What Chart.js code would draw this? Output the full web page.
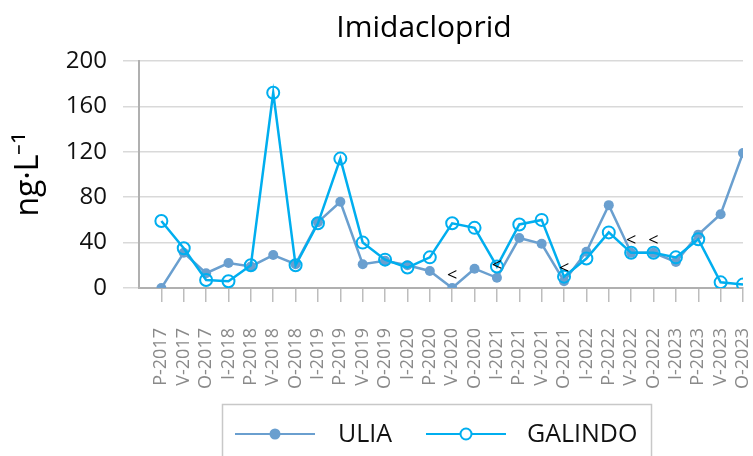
<!DOCTYPE html>
<html>
<head>
<meta charset="utf-8">
<script src="https://cdn.jsdelivr.net/npm/chart.js@4"></script>
<style>
  html, body { margin: 0; padding: 0; background: #fff; }
  #wrap { width: 753px; height: 456px; }
</style>
</head>
<body>
<div id="wrap"><canvas id="myChart" width="753" height="456"></canvas></div>
<script>
const categories = ["P-2017", "V-2017", "O-2017", "I-2018", "P-2018", "V-2018", "O-2018",
  "I-2019", "P-2019", "V-2019", "O-2019", "I-2020", "P-2020", "V-2020", "O-2020",
  "I-2021", "P-2021", "V-2021", "O-2021", "I-2022", "P-2022", "V-2022", "O-2022",
  "I-2023", "P-2023", "V-2023", "O-2023"];
const ulia = [0, 31, 13, 22, 19, 29, 21, 58, 76, 21, 24, 20, 15, 0, 17, 9, 44, 39, 6, 32, 73, 31, 31, 23, 47, 65, 119];
const galindo = [59, 35, 7, 6, 20, 172, 20, 57, 114, 40, 25, 18, 27, 57, 53, 19, 56, 60, 10, 26, 49, 31, 31, 27, 43, 5, 3];
// "<" labels (below detection limit) placed on ULIA points
const belowLimit = [13, 15, 18, 21, 22];
const yTicks = [0, 40, 80, 120, 160, 200];

const FONT = "'Open Sans', sans-serif";
const ULIA_COLOR = "#6A9FCF";
const GAL_COLOR = "#00AEEF";

const ctx = document.getElementById("myChart").getContext("2d");

const extrasPlugin = {
  id: "extras",
  afterLayout(chart) {
    // centre the title a bit left of the plot area, like the original
    if (chart.titleBlock) chart.titleBlock.left = 105;
  },
  afterDatasetsDraw(chart) {
    const c = chart.ctx;
    const xs = chart.scales.x;
    const ys = chart.scales.y;
    c.save();
    c.fillStyle = "#000";
    c.font = "18px " + FONT;
    c.textAlign = "center";
    c.textBaseline = "middle";
    belowLimit.forEach(function (i) {
      c.fillText("<", xs.getPixelForValue(i), ys.getPixelForValue(ulia[i]) - 12);
    });
    c.restore();
  },
  afterDraw(chart) {
    const c = chart.ctx;
    c.save();
    // legend box
    c.strokeStyle = "#c8c8c8";
    c.lineWidth = 1.5;
    c.strokeRect(222.5, 404.5, 429, 60);
    const ly = 434;
    const items = [
      { x: 235, tx: 338, label: "ULIA", color: ULIA_COLOR, filled: true },
      { x: 426, tx: 527, label: "GALINDO", color: GAL_COLOR, filled: false }
    ];
    items.forEach(function (it) {
      c.strokeStyle = it.color;
      c.lineWidth = 2;
      c.beginPath();
      c.moveTo(it.x, ly);
      c.lineTo(it.x + 80, ly);
      c.stroke();
      c.beginPath();
      c.arc(it.x + 40, ly, 5.5, 0, Math.PI * 2);
      if (it.filled) {
        c.fillStyle = it.color;
        c.fill();
      } else {
        c.fillStyle = "#fff";
        c.fill();
        c.stroke();
      }
      c.fillStyle = "#111";
      c.font = "25px " + FONT;
      c.textAlign = "left";
      c.textBaseline = "middle";
      c.fillText(it.label, it.tx, ly + 1);
    });
    c.restore();
  }
};

new Chart(ctx, {
  type: "line",
  data: {
    datasets: [
      {
        label: "ULIA",
        data: ulia.map(function (v, i) { return { x: i, y: v }; }),
        borderColor: ULIA_COLOR,
        backgroundColor: ULIA_COLOR,
        borderWidth: 2.5,
        pointRadius: 5,
        pointBorderWidth: 0,
        pointBackgroundColor: ULIA_COLOR,
        tension: 0,
        order: 2
      },
      {
        label: "GALINDO",
        data: galindo.map(function (v, i) { return { x: i, y: v }; }),
        borderColor: GAL_COLOR,
        backgroundColor: "rgba(0,0,0,0)",
        borderWidth: 2.5,
        pointRadius: 6,
        pointBorderWidth: 2,
        pointBorderColor: GAL_COLOR,
        pointBackgroundColor: "rgba(0,0,0,0)",
        tension: 0,
        order: 1
      }
    ]
  },
  options: {
    responsive: false,
    animation: false,
    layout: { padding: { left: 0, right: 10, top: 0, bottom: 56 } },
    plugins: {
      legend: { display: false },
      tooltip: { enabled: false },
      title: {
        display: true,
        fullSize: false,
        text: "Imidacloprid",
        color: "#000",
        font: { family: FONT, size: 30, weight: "normal", lineHeight: 1.2 },
        padding: { top: 10, bottom: 15 }
      }
    },
    scales: {
      x: {
        type: "linear",
        min: -1,
        max: categories.length - 1,
        afterBuildTicks: function (axis) {
          axis.ticks = categories.map(function (c, i) { return { value: i }; });
        },
        afterFit: function (scale) {
          scale.height = 112;
          scale.paddingLeft = 0;
          scale.paddingRight = 0;
        },
        ticks: {
          autoSkip: false,
          maxRotation: 90,
          minRotation: 90,
          color: "#8a8a8a",
          font: { family: FONT, size: 18 },
          padding: 26,
          callback: function (v) { return categories[v] !== undefined ? categories[v] : ""; }
        },
        grid: {
          drawOnChartArea: false,
          color: "#bdbdbd",
          lineWidth: 1.5,
          tickLength: 14
        },
        border: { color: "#b0b0b0", width: 2 }
      },
      y: {
        min: 0,
        max: 200,
        afterBuildTicks: function (axis) {
          axis.ticks = yTicks.map(function (v) { return { value: v }; });
        },
        afterFit: function (scale) {
          scale.width = 139;
          scale.paddingTop = 0;
          scale.paddingBottom = 0;
        },
        ticks: {
          color: "#111",
          font: { family: FONT, size: 24 },
          padding: 16
        },
        grid: {
          color: "#d9d9d9",
          lineWidth: 1.5,
          tickLength: 16
        },
        border: { color: "#b0b0b0", width: 2 },
        title: {
          display: true,
          text: "ng·L⁻¹",
          color: "#000",
          font: { family: FONT, size: 32, lineHeight: 1.2 },
          padding: { top: 10, bottom: 0 }
        }
      }
    }
  },
  plugins: [extrasPlugin]
});
</script>
</body>
</html>
